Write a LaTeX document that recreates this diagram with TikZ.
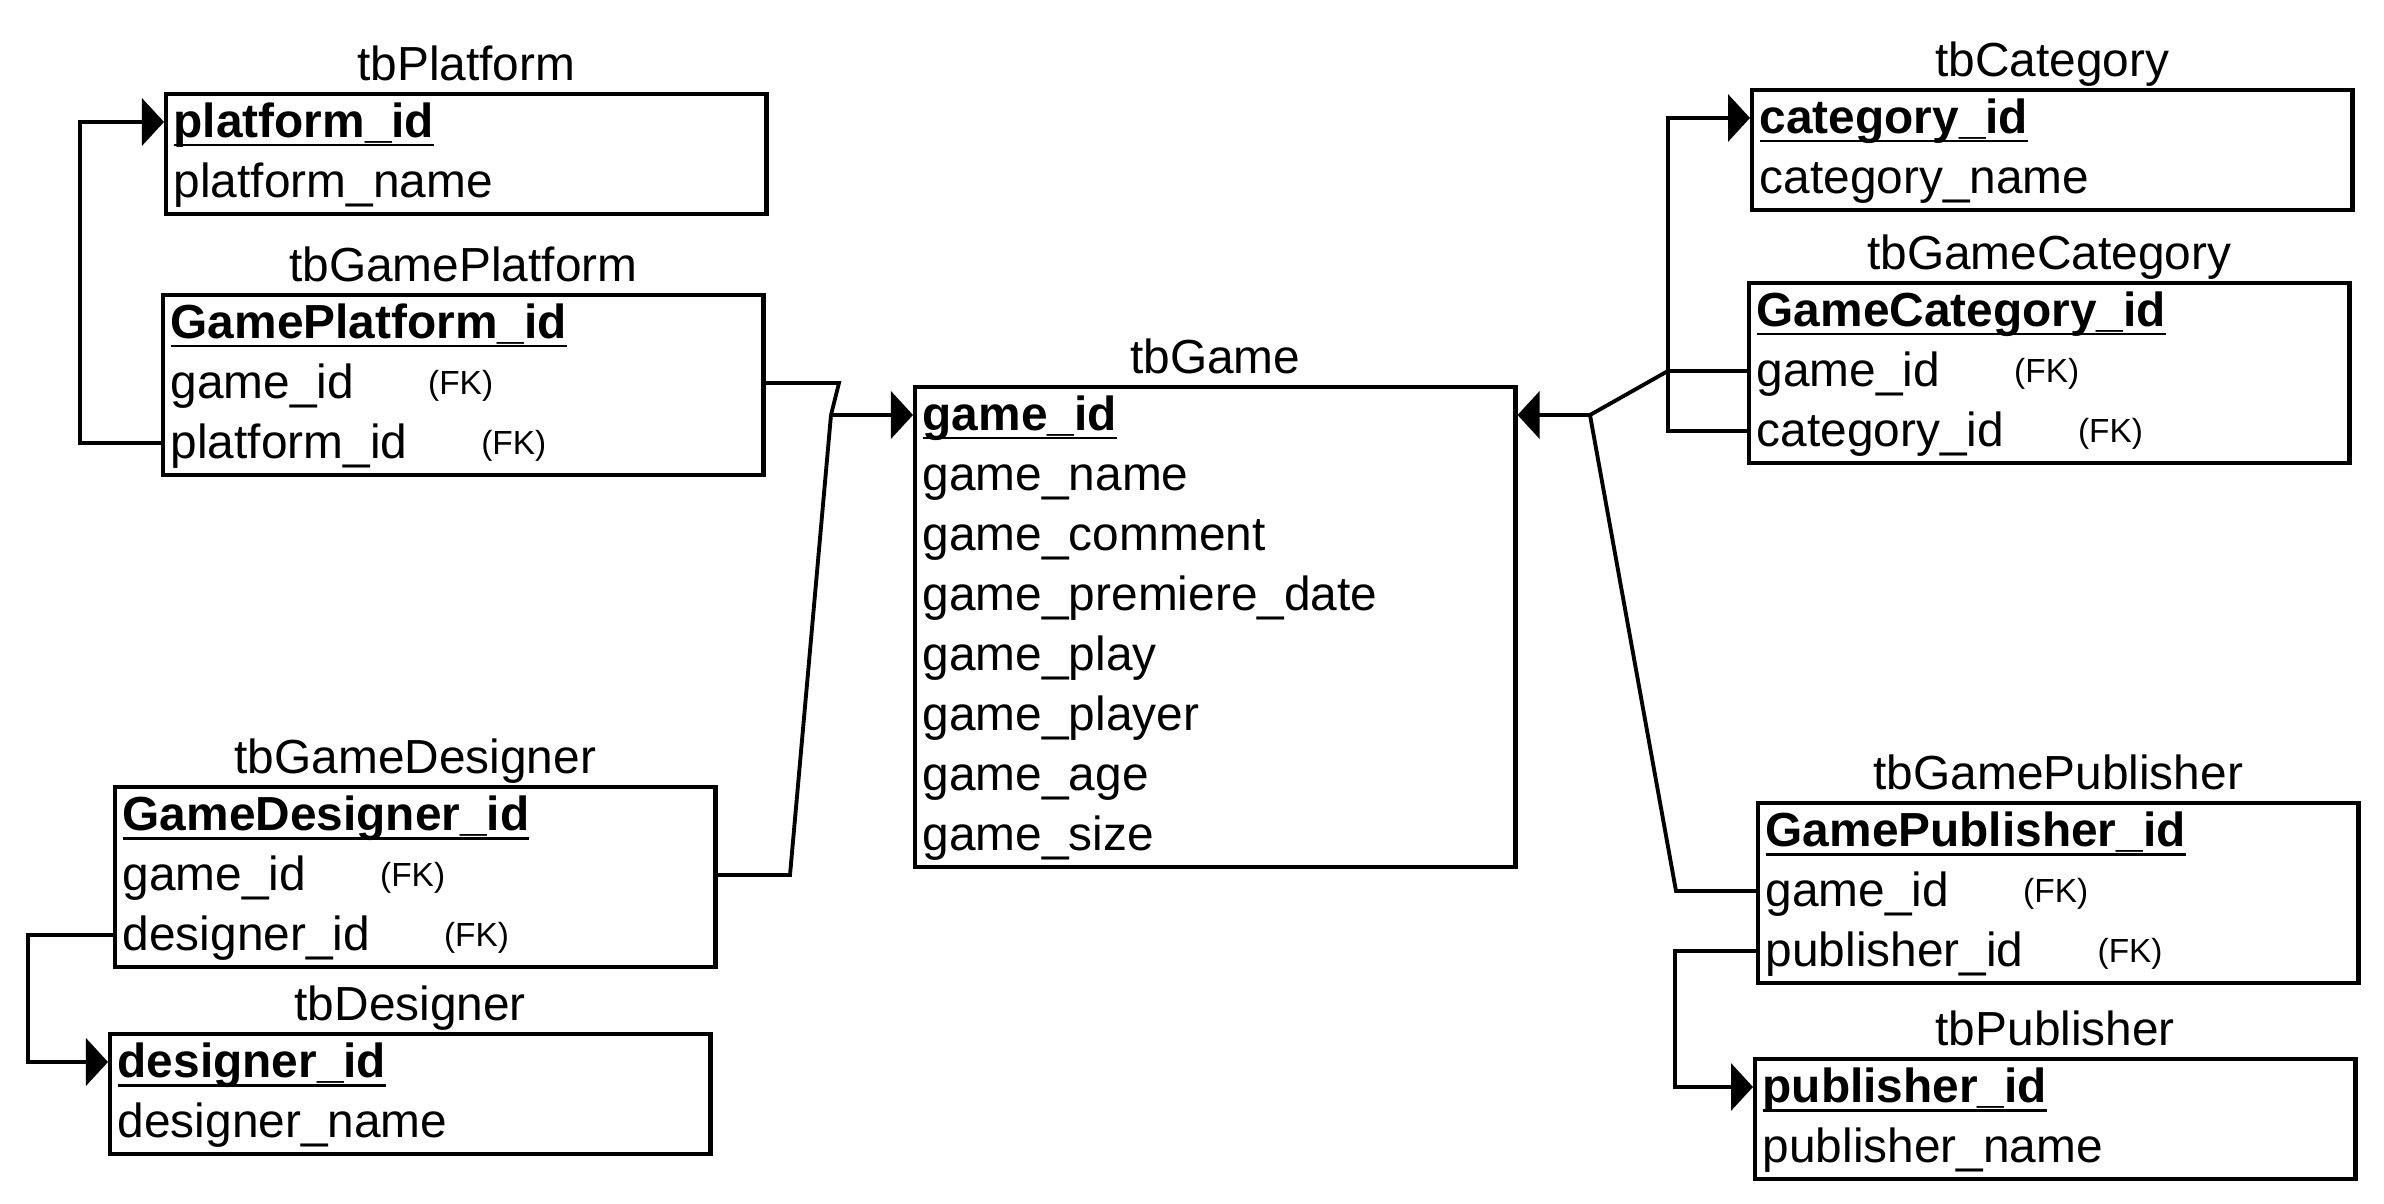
\documentclass[tikz,border=0pt]{standalone}
\usepackage{fontspec}
\setmainfont{Liberation Sans}
\usetikzlibrary{arrows.meta,positioning}
\newcommand\pkey[1]{\setbox0=\hbox{\bfseries #1}\rlap{\rule[-2.7pt]{\wd0}{0.85pt}}\box0}
\newcommand\fk{\hspace{0.74cm}\raisebox{1pt}{\fontsize{9.5pt}{11pt}\selectfont (FK)}}
\tikzset{
  entity/.style={draw,line width=1.2pt,minimum width=6cm,inner sep=0pt,anchor=north west},
  tbltitle/.style={font=\fontsize{13.6pt}{16pt}\selectfont,inner sep=0pt},
  field/.style={anchor=west,inner xsep=0.09cm,inner ysep=0pt,text height=11pt,text depth=2.46pt,
                font=\fontsize{13.6pt}{16pt}\selectfont},
  relline/.style={line width=1.1pt},
  refarr/.style={relline,-{Triangle[length=0.22cm,width=0.47cm]}}
}
\begin{document}
\begin{tikzpicture}[x=0.01cm,y=-0.01cm]
  \useasboundingbox (0,0) rectangle (2384,1204);

  % tbPlatform
  \node[entity,minimum height=1.2cm] (plat) at (164,92) {};
  \node[tbltitle,above=0.11cm of plat.north,anchor=base] (plat-title) {tbPlatform};
  \node[field] (plat-platform) at (164,122) {\pkey{platform\_id}};
  \node[field] (plat-name) at (164,182) {platform\_name};

  % tbGamePlatform
  \node[entity,minimum height=1.8cm] (gplat) at (161,293) {};
  \node[tbltitle,above=0.11cm of gplat.north,anchor=base] (gplat-title) {tbGamePlatform};
  \node[field] (gplat-id) at (161,323) {\pkey{GamePlatform\_id}};
  \node[field] (gplat-game) at (161,383) {game\_id\fk};
  \node[field] (gplat-platform) at (161,443) {platform\_id\fk};

  % tbGame
  \node[entity,minimum height=4.8cm] (game) at (913,385) {};
  \node[tbltitle,above=0.11cm of game.north,anchor=base] (game-title) {tbGame};
  \foreach \k/\t [count=\i from 0] in {id/\pkey{game\_id},name/game\_name,comment/game\_comment,
      date/game\_premiere\_date,play/game\_play,player/game\_player,age/game\_age,size/game\_size}
    \node[field] (game-\k) at (913,{415+60*\i}) {\t};

  % tbCategory
  \node[entity,minimum height=1.2cm] (cat) at (1750,88) {};
  \node[tbltitle,above=0.11cm of cat.north,anchor=base] (cat-title) {tbCategory};
  \node[field] (cat-category) at (1750,118) {\pkey{category\_id}};
  \node[field] (cat-name) at (1750,178) {category\_name};

  % tbGameCategory
  \node[entity,minimum height=1.8cm] (gcat) at (1747,281) {};
  \node[tbltitle,above=0.11cm of gcat.north,anchor=base] (gcat-title) {tbGameCategory};
  \node[field] (gcat-id) at (1747,311) {\pkey{GameCategory\_id}};
  \node[field] (gcat-game) at (1747,371) {game\_id\fk};
  \node[field] (gcat-category) at (1747,431) {category\_id\fk};

  % tbGameDesigner
  \node[entity,minimum height=1.8cm] (gdes) at (113,785) {};
  \node[tbltitle,above=0.11cm of gdes.north,anchor=base] (gdes-title) {tbGameDesigner};
  \node[field] (gdes-id) at (113,815) {\pkey{GameDesigner\_id}};
  \node[field] (gdes-game) at (113,875) {game\_id\fk};
  \node[field] (gdes-designer) at (113,935) {designer\_id\fk};

  % tbDesigner
  \node[entity,minimum height=1.2cm] (des) at (108,1032) {};
  \node[tbltitle,above=0.11cm of des.north,anchor=base] (des-title) {tbDesigner};
  \node[field] (des-designer) at (108,1062) {\pkey{designer\_id}};
  \node[field] (des-name) at (108,1122) {designer\_name};

  % tbGamePublisher
  \node[entity,minimum height=1.8cm] (gpub) at (1756,801) {};
  \node[tbltitle,above=0.11cm of gpub.north,anchor=base] (gpub-title) {tbGamePublisher};
  \node[field] (gpub-id) at (1756,831) {\pkey{GamePublisher\_id}};
  \node[field] (gpub-game) at (1756,891) {game\_id\fk};
  \node[field] (gpub-publisher) at (1756,951) {publisher\_id\fk};

  % tbPublisher
  \node[entity,minimum height=1.2cm] (pub) at (1753,1057) {};
  \node[tbltitle,above=0.11cm of pub.north,anchor=base] (pub-title) {tbPublisher};
  \node[field] (pub-publisher) at (1753,1087) {\pkey{publisher\_id}};
  \node[field] (pub-name) at (1753,1147) {publisher\_name};

  % foreign keys, left side
  \draw[refarr] (gplat-platform.west) -- ++(-81,0) |- (plat-platform.west);
  \draw[refarr] (gdes-designer.west) -- ++(-85,0) |- (des-designer.west);
  \coordinate (leftjoin) at (831,415);
  \draw[relline] (gplat.east |- gplat-game) -- (839,383) -- (leftjoin);
  \draw[relline] (gdes.east |- gdes-game) -- (790,875) -- (leftjoin);
  \draw[refarr] (leftjoin) -- (game-id.west);

  % foreign keys, right side
  \coordinate (rightjoin) at (1590,415);
  \draw[relline] (gcat-game.west) -- (1668,371) -- (rightjoin);
  \draw[relline] (rightjoin) -- (1676,891) -- (gpub-game.west);
  \draw[refarr] (rightjoin) -- (game.east |- game-id);
  \draw[refarr] (gcat-category.west) -- ++(-79,0) |- (cat-category.west);
  \draw[refarr] (gpub-publisher.west) -- ++(-81,0) |- (pub-publisher.west);
\end{tikzpicture}
\end{document}
